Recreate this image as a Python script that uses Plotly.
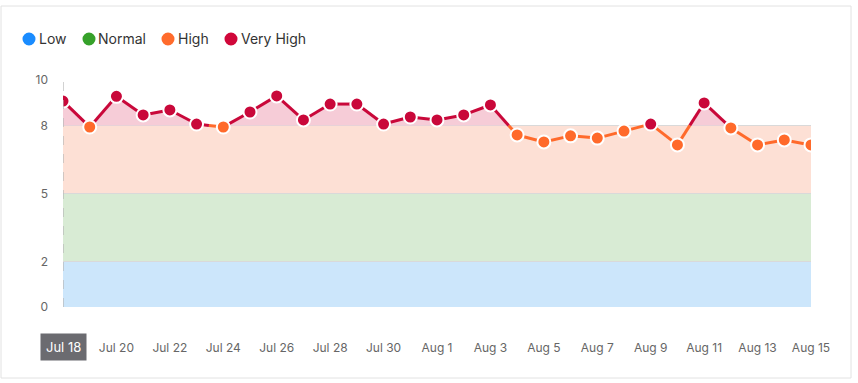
import plotly.graph_objects as go
import pandas as pd

# ---- data ----
dates = pd.date_range("2024-07-18", "2024-08-15", freq="D")
values = [9.07, 7.93, 9.28, 8.46, 8.68, 8.06, 7.93, 8.59, 9.30, 8.24,
          8.94, 8.94, 8.06, 8.37, 8.24, 8.46, 8.90, 7.58, 7.27, 7.54,
          7.44, 7.75, 8.06, 7.14, 8.99, 7.89, 7.14, 7.36, 7.14]
tick_dates = dates[::2]
tick_labels = [d.strftime("%b ") + str(d.day) for d in tick_dates]
band_edges = [0, 2, 5, 8]
band_names = ["Low", "Normal", "High", "Very High"]
legend_colors = ["#1a8cff", "#36a12a", "#ff6b2c", "#d0073a"]
band_fills = ["#cce6fb", "#d8ebd4", "#fde0d5", "#f6ccd7"]
threshold = 8
y_ticks = [0, 2, 5, 8, 10]

RED = "#c9083a"
ORANGE = "#ff6a2b"

# plot geometry (px)
W, H = 858, 383
L, R, T, B = 63, 47, 80, 76
pw, ph = W - L - R, H - T - B

def px_x(p):
    return (p - L) / pw

def px_y(p):
    return (H - B - p) / ph

fig = go.Figure()

# bands as shapes
shapes = []
for i in range(3):
    shapes.append(dict(type="rect", xref="paper", yref="y", x0=0, x1=1,
                       y0=band_edges[i], y1=band_edges[i + 1],
                       fillcolor=band_fills[i], line=dict(width=0), layer="below"))

# pink fill above threshold
ts = [d.value for d in dates]
fx, fy = [], []
for i in range(len(values)):
    v = values[i]
    if i > 0:
        v0 = values[i - 1]
        if (v0 - threshold) * (v - threshold) < 0:
            t = (threshold - v0) / (v - v0)
            fx.append(pd.Timestamp(int(ts[i - 1] + t * (ts[i] - ts[i - 1]))))
            fy.append(threshold)
    fx.append(dates[i])
    fy.append(max(v, threshold))
fig.add_trace(go.Scatter(x=[dates[0], dates[-1]], y=[threshold, threshold], mode="lines",
                         line=dict(width=0), hoverinfo="skip", showlegend=False))
fig.add_trace(go.Scatter(x=fx, y=fy, mode="lines", line=dict(width=0), fill="tonexty",
                         fillcolor=band_fills[3], hoverinfo="skip", showlegend=False))

# threshold-coloured line segments
rx, ry, ox, oy = [], [], [], []
for i in range(1, len(values)):
    v0, v1 = values[i - 1], values[i]
    x0, x1 = dates[i - 1], dates[i]
    if (v0 - threshold) * (v1 - threshold) < 0:
        t = (threshold - v0) / (v1 - v0)
        xc = pd.Timestamp(int(ts[i - 1] + t * (ts[i] - ts[i - 1])))
        a = (rx, ry) if v0 > threshold else (ox, oy)
        b = (rx, ry) if v1 > threshold else (ox, oy)
        a[0].extend([x0, xc, None]); a[1].extend([v0, threshold, None])
        b[0].extend([xc, x1, None]); b[1].extend([threshold, v1, None])
    else:
        c = (rx, ry) if (v0 + v1) / 2 > threshold else (ox, oy)
        c[0].extend([x0, x1, None]); c[1].extend([v0, v1, None])
fig.add_trace(go.Scatter(x=ox, y=oy, mode="lines", line=dict(color=ORANGE, width=3),
                         hoverinfo="skip", showlegend=False))
fig.add_trace(go.Scatter(x=rx, y=ry, mode="lines", line=dict(color=RED, width=3),
                         hoverinfo="skip", showlegend=False))

# markers
mcol = [RED if v > threshold else ORANGE for v in values]
fig.add_trace(go.Scatter(x=list(dates), y=values, mode="markers",
                         marker=dict(size=13, color=mcol, line=dict(color="white", width=2)),
                         showlegend=False))

# dashed pointer line
shapes.append(dict(type="line", xref="x", yref="y", x0=dates[0], x1=dates[0], y0=0, y1=10,
                   line=dict(color="#b5b5b5", width=1.2, dash="dash"), layer="above"))

# card border
shapes.append(dict(type="rect", xref="paper", yref="paper",
                   x0=px_x(1), x1=px_x(851), y0=px_y(378), y1=px_y(6),
                   line=dict(color="#e2e2e2", width=1), fillcolor="rgba(0,0,0,0)", layer="below"))

# legend
annotations = []
leg_cx = [29, 89, 168, 231]
leg_tx = [37, 96, 176, 239]
for name, col, cx, tx in zip(band_names, legend_colors, leg_cx, leg_tx):
    shapes.append(dict(type="circle", xref="paper", yref="paper",
                       xsizemode="pixel", ysizemode="pixel",
                       xanchor=px_x(cx), yanchor=px_y(39), x0=-6.5, x1=6.5, y0=-6.5, y1=6.5,
                       fillcolor=col, line=dict(width=0)))
    annotations.append(dict(xref="paper", yref="paper", x=px_x(tx), y=px_y(39),
                            xanchor="left", yanchor="middle", showarrow=False, text=name,
                            font=dict(family="Inter, Roboto, sans-serif", size=14, color="#333333")))

# highlighted (first) date label
annotations.append(dict(xref="x", yref="paper", x=tick_dates[0], y=px_y(347), text=tick_labels[0],
                        showarrow=False, bgcolor="#6b6b70", borderpad=5,
                        font=dict(family="Inter, Roboto, sans-serif", size=13, color="white"),
                        xanchor="center", yanchor="middle"))

fig.update_layout(
    width=W, height=H, margin=dict(l=L, r=R, t=T, b=B),
    paper_bgcolor="white", plot_bgcolor="white",
    showlegend=False, shapes=shapes, annotations=annotations,
    font=dict(family="Inter, Roboto, sans-serif", size=12, color="#666666"),
    hovermode=False,
)
fig.update_xaxes(range=[dates[0], dates[-1]], tickvals=list(tick_dates[1:]), ticktext=tick_labels[1:],
                 showgrid=False, zeroline=False, showline=False, ticks="",
                 ticklabelstandoff=32, tickfont=dict(size=12, color="#666666"))
fig.update_yaxes(range=[0, 10], tickvals=y_ticks, showgrid=True, gridcolor="#d9d9d9",
                 gridwidth=1, zeroline=False, showline=False, ticks="",
                 ticklabelstandoff=14, tickfont=dict(size=12, color="#666666"))

fig.write_html("out.html", config={"displayModeBar": False},
               post_script="document.body.style.margin='0px';")
